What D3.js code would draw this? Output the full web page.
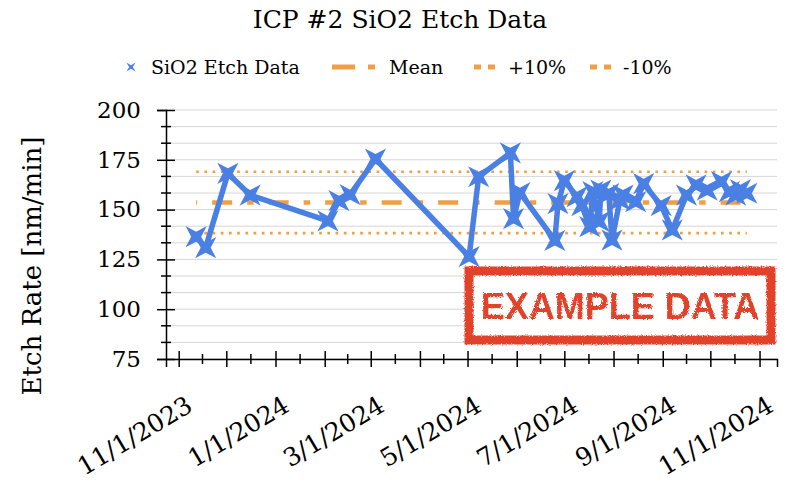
<!DOCTYPE html>
<meta charset="utf-8">
<script src="https://d3js.org/d3.v7.min.js"></script>
<style>
  body { margin: 0; background: #fff; }
  text { font-family: "DejaVu Serif", serif; fill: #000; }
</style>
<div id="chart"></div>
<script>

// values
var dates = ["2023-11-12","2023-11-18","2023-12-02","2023-12-16","2024-02-03","2024-02-10","2024-02-17","2024-03-04",
             "2024-05-02","2024-05-08","2024-05-28","2024-05-30","2024-06-03","2024-06-25","2024-06-27","2024-07-01",
             "2024-07-09","2024-07-12","2024-07-17","2024-07-19","2024-07-23","2024-07-24","2024-07-29","2024-07-31",
             "2024-08-05","2024-08-07","2024-08-15","2024-08-20","2024-08-31","2024-09-07","2024-09-16","2024-09-22",
             "2024-09-29","2024-10-08","2024-10-13","2024-10-17","2024-10-20","2024-10-24"];
var rates = [136.4,130.9,168.2,157.3,144.3,154.5,157.5,175.4,
             126.4,166.5,178.5,145.5,158.5,134.5,153,164.5,
             156.5,152,141.4,159,144,159.8,158,134.7,
             154.8,157.3,154,163,152,139.8,157.3,162.4,
             159.8,164,159,157.3,160,158.2];
var meanRate = 153.6;
var plusTen = 169.0;
var minusTen = 138.2;
var yTicks = [75, 100, 125, 150, 175, 200];
var monthTicks = ["2023-11-01","2023-12-01","2024-01-01","2024-02-01","2024-03-01","2024-04-01","2024-05-01",
                  "2024-06-01","2024-07-01","2024-08-01","2024-09-01","2024-10-01","2024-11-01"];
var labelTicks = ["2023-11-01","2024-01-01","2024-03-01","2024-05-01","2024-07-01","2024-09-01","2024-11-01"];
var xDomain = ["2023-10-24","2024-11-12"];
var legendNames = ["SiO2 Etch Data", "Mean", "+10%", "-10%"];

var blue = "#4a80e3", orange = "#efa046", red = "#e2432b";

var width = 800, height = 483;
var margin = {top: 110, right: 23, bottom: 124, left: 166};
var plotW = width - margin.left - margin.right,
    plotH = height - margin.top - margin.bottom;

var parse = d3.timeParse("%Y-%m-%d");
var data = dates.map(function(d, i) { return {date: parse(d), value: rates[i]}; });

var svg = d3.select("#chart").append("svg")
    .attr("width", width).attr("height", height);

var defs = svg.append("defs");
var rough = defs.append("filter").attr("id", "rough").attr("x", "-5%").attr("y", "-10%").attr("width", "110%").attr("height", "120%");
rough.append("feTurbulence").attr("type", "fractalNoise").attr("baseFrequency", 0.8).attr("numOctaves", 2).attr("result", "n");
rough.append("feDisplacementMap").attr("in", "SourceGraphic").attr("in2", "n").attr("scale", 3.5);

var g = svg.append("g").attr("transform", "translate(" + margin.left + "," + margin.top + ")");

var x = d3.scaleTime().domain(xDomain.map(parse)).range([0, plotW]);
var y = d3.scaleLinear().domain([75, 200]).range([plotH, 0]);

// minor gridlines (3 per major step)
var minorY = d3.range(0, 16).map(function(i) { return 75 + i * 25 / 3; });
g.selectAll(".grid").data(minorY).enter().append("line")
    .attr("x1", 0).attr("x2", plotW)
    .attr("y1", function(d) { return y(d); }).attr("y2", function(d) { return y(d); })
    .attr("stroke", "#d6d6d6").attr("stroke-width", 1);

// mean and +/-10% lines, spanning the data range
var first = data[0].date, last = data[data.length - 1].date;
function hline(v) { return [{date: first, value: v}, {date: last, value: v}]; }
var flat = d3.line().x(function(d) { return x(d.date); }).y(function(d) { return y(d.value); });

g.append("path").attr("d", flat(hline(meanRate)))
    .attr("fill", "none").attr("stroke", orange).attr("stroke-width", 4.5)
    .attr("stroke-dasharray", "20 15 6.5 15").attr("stroke-dashoffset", 40.5);
[plusTen, minusTen].forEach(function(v) {
  g.append("path").attr("d", flat(hline(v)))
      .attr("fill", "none").attr("stroke", orange).attr("stroke-width", 2.7)
      .attr("stroke-dasharray", "2.7 5.5");
});

// data line + star markers
g.append("path").datum(data).attr("d", flat)
    .attr("fill", "none").attr("stroke", blue).attr("stroke-width", 5.5)
    .attr("stroke-linejoin", "round");

function starPath(r, ri) {
  var pts = d3.range(8).map(function(k) {
    var a = Math.PI / 4 + k * Math.PI / 4, rr = k % 2 === 0 ? r : ri;
    return [rr * Math.cos(a), rr * Math.sin(a)];
  });
  return "M" + pts.join("L") + "Z";
}

g.selectAll(".pt").data(data).enter().append("path")
    .attr("d", starPath(15, 5))
    .attr("transform", function(d) { return "translate(" + x(d.date) + "," + y(d.value) + ")"; })
    .attr("fill", blue);

// y axis
var yAxis = g.append("g").call(d3.axisLeft(y).tickValues(yTicks).tickSize(9).tickPadding(16));
yAxis.select(".domain").attr("stroke", "#000").attr("stroke-width", 1.5);
yAxis.selectAll(".tick line").attr("x1", 9).attr("x2", -9).attr("stroke-width", 1.5);
yAxis.selectAll(".tick text").attr("font-size", 23).attr("font-family", "DejaVu Serif");
g.selectAll(".yminor").data(minorY.filter(function(d) { return yTicks.indexOf(d) < 0; })).enter().append("line")
    .attr("x1", -5).attr("x2", 5)
    .attr("y1", function(d) { return y(d); }).attr("y2", function(d) { return y(d); })
    .attr("stroke", "#000").attr("stroke-width", 1.5);

// x axis
var monthDates = monthTicks.map(parse);
var fmt = d3.timeFormat("%-m/%-d/%Y"), key = d3.timeFormat("%Y-%m-%d");
var xAxis = g.append("g").attr("transform", "translate(0," + plotH + ")")
    .call(d3.axisBottom(x).tickValues(monthDates).tickSize(8)
      .tickFormat(function(d) { return labelTicks.indexOf(key(d)) >= 0 ? fmt(d) : ""; }));
xAxis.select(".domain").attr("stroke", "#000").attr("stroke-width", 1.5);
xAxis.selectAll(".tick line").attr("y1", -8).attr("y2", 8).attr("stroke-width", 1.5);
xAxis.selectAll(".tick text")
    .attr("font-size", 25).attr("font-family", "DejaVu Serif")
    .attr("text-anchor", "end").attr("dy", 0).attr("y", 0)
    .attr("transform", "translate(15,51) rotate(-31)");
var mids = d3.pairs(monthDates).map(function(p) { return new Date((+p[0] + +p[1]) / 2); });
g.selectAll(".xminor").data(mids).enter().append("line")
    .attr("x1", function(d) { return x(d); }).attr("x2", function(d) { return x(d); })
    .attr("y1", plotH - 5).attr("y2", plotH + 5)
    .attr("stroke", "#000").attr("stroke-width", 1.5);

// example data stamp
var stamp = svg.append("g").attr("filter", "url(#rough)");
stamp.append("rect").attr("x", 469).attr("y", 271).attr("width", 302).attr("height", 69)
    .attr("fill", "#fff").attr("stroke", red).attr("stroke-width", 9);
stamp.append("text").attr("x", 620).attr("y", 319).attr("text-anchor", "middle")
    .style("font-family", "'Liberation Sans', Arial, sans-serif").style("font-weight", "bold")
    .style("font-size", "36px").style("fill", red)
    .text("EXAMPLE DATA");

// title and axis title
svg.append("text").attr("x", 400).attr("y", 28).attr("text-anchor", "middle")
    .attr("font-size", 25).text("ICP #2 SiO2 Etch Data");
svg.append("text").attr("transform", "translate(41,266) rotate(-90)").attr("text-anchor", "middle")
    .attr("font-size", 26).text("Etch Rate [nm/min]");

// legend
var lg = svg.append("g").attr("transform", "translate(0,67)");
lg.append("path").attr("d", starPath(6.5, 1.8)).attr("transform", "translate(131,0)").attr("fill", blue);
lg.append("line").attr("x1", 332).attr("x2", 376).attr("stroke", orange).attr("stroke-width", 5)
    .attr("stroke-dasharray", "23 13 7 100");
lg.append("line").attr("x1", 474).attr("x2", 495).attr("stroke", orange).attr("stroke-width", 5)
    .attr("stroke-dasharray", "7 7");
lg.append("line").attr("x1", 590).attr("x2", 611).attr("stroke", orange).attr("stroke-width", 5)
    .attr("stroke-dasharray", "7 7");
var legX = [151, 389, 508, 623];
legendNames.forEach(function(n, i) {
  lg.append("text").attr("x", legX[i]).attr("y", 7).attr("font-size", 19).text(n);
});

</script>
